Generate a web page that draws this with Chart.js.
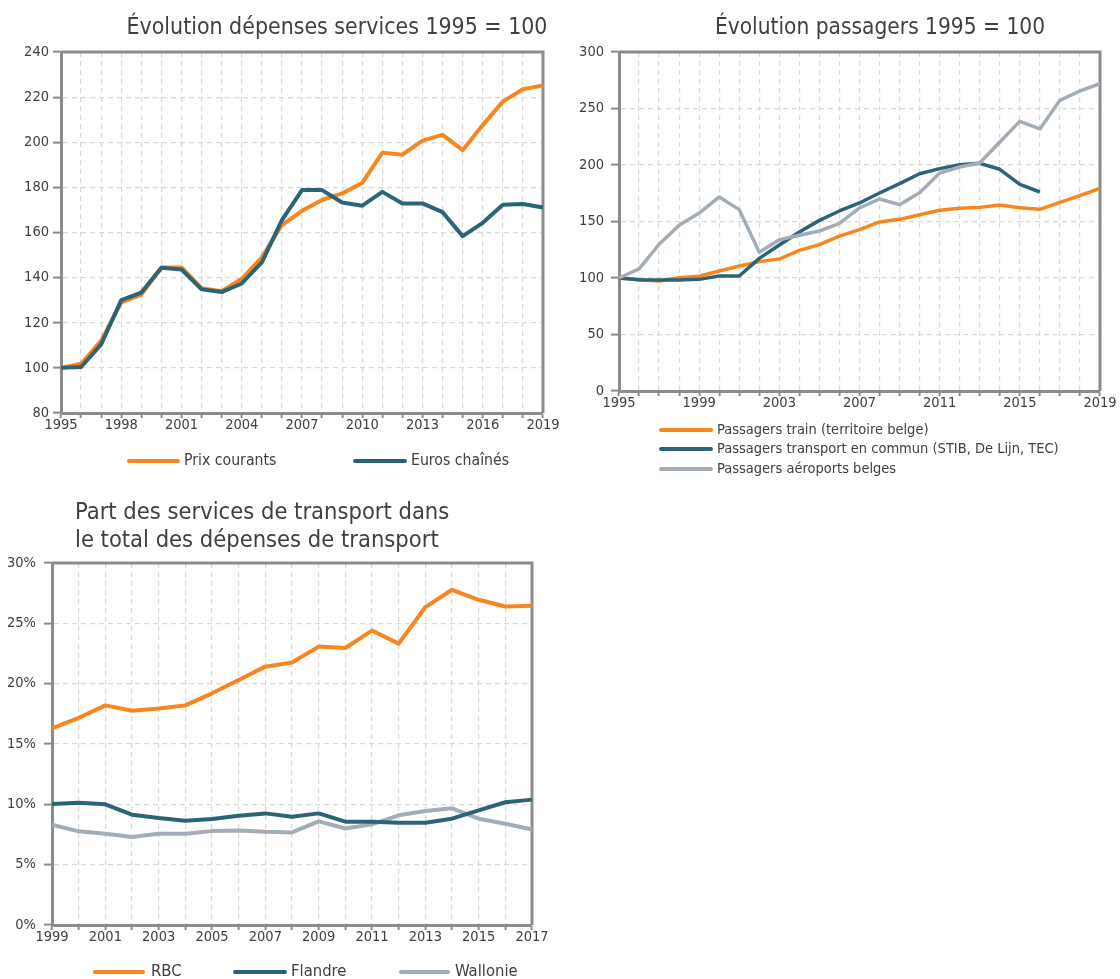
<!DOCTYPE html>
<html><head><meta charset="utf-8">
<script src="https://cdn.jsdelivr.net/npm/chart.js@4.4.1/dist/chart.umd.min.js"></script>
<style>
html,body{margin:0;padding:0;background:#fff;}
body{width:1120px;height:979px;position:relative;overflow:hidden;}
.box{position:absolute;}
#b1{left:0;top:0;width:560px;height:480px;}
#b2{left:560px;top:0;width:560px;height:480px;}
#b3{left:0;top:480px;width:560px;height:499px;}
canvas{display:block;}
</style></head><body>
<div class="box" id="b1"><canvas id="c1" width="560" height="480"></canvas></div>
<div class="box" id="b2"><canvas id="c2" width="560" height="480"></canvas></div>
<div class="box" id="b3"><canvas id="c3" width="560" height="499"></canvas></div>
<script>
// ---------- DATA ----------
const years1 = ['1995','1996','1997','1998','1999','2000','2001','2002','2003','2004','2005','2006','2007','2008','2009','2010','2011','2012','2013','2014','2015','2016','2017','2018','2019'];
const prixCourants = [100, 101.8, 112, 129, 132.5, 144.5, 144.5, 135.3, 134, 139.5, 149, 163.3, 169.6, 174.4, 177.3, 182, 195.4, 194.5, 200.7, 203.3, 196.5, 207.6, 218, 223.5, 225.2];
const eurosChaines = [100, 100.4, 110.4, 130, 133.4, 144.4, 143.6, 134.8, 133.6, 137.4, 146.8, 165.5, 178.8, 178.8, 173.3, 171.9, 178, 172.9, 172.9, 169, 158.4, 164.3, 172.3, 172.6, 171.1];
const xLabels1 = ['1995','1998','2001','2004','2007','2010','2013','2016','2019'];

const years2 = ['1995','1996','1997','1998','1999','2000','2001','2002','2003','2004','2005','2006','2007','2008','2009','2010','2011','2012','2013','2014','2015','2016','2017','2018','2019'];
const passagersTrain = [100, 98.5, 97.3, 100.3, 101.5, 106.2, 110.6, 114.5, 116.8, 124.5, 129.5, 137, 142.8, 149.6, 151.9, 156, 159.9, 161.7, 162.5, 164.6, 162.2, 160.8, 167, 172.9, 179.4];
const passagersTransport = [100, 98.5, 98.2, 98.2, 98.8, 101.8, 101.8, 117.4, 129.2, 140.7, 151, 159.3, 166.4, 175.2, 183.5, 192.3, 196.8, 200.3, 201.5, 196.2, 182.9, 176.1, null, null, null];
const passagersAeroports = [100, 108, 129.8, 146.6, 157.5, 171.7, 160.5, 122.7, 133.9, 137.8, 141.6, 148.3, 162, 169.9, 164.9, 175.5, 192.9, 198.2, 201.8, 220.4, 238.6, 231.9, 257.2, 265.5, 272];
const xLabels2 = ['1995','1999','2003','2007','2011','2015','2019'];

const years3 = ['1999','2000','2001','2002','2003','2004','2005','2006','2007','2008','2009','2010','2011','2012','2013','2014','2015','2016','2017'];
const partRBC = [16.29, 17.17, 18.2, 17.76, 17.95, 18.2, 19.2, 20.3, 21.41, 21.75, 23.07, 22.96, 24.4, 23.32, 26.34, 27.78, 26.95, 26.4, 26.45];
const partFlandre = [10.03, 10.14, 10.0, 9.14, 8.86, 8.64, 8.78, 9.06, 9.25, 8.97, 9.25, 8.56, 8.56, 8.48, 8.48, 8.81, 9.5, 10.17, 10.39];
const partWallonie = [8.31, 7.76, 7.56, 7.29, 7.56, 7.56, 7.78, 7.84, 7.73, 7.67, 8.59, 8.0, 8.34, 9.09, 9.45, 9.67, 8.81, 8.39, 7.92];
const xLabels3 = ['1999','2001','2003','2005','2007','2009','2011','2013','2015','2017'];

const title1 = ['Évolution dépenses services 1995 = 100'];
const title2 = ['Évolution passagers 1995 = 100'];
const title3 = ['Part des services de transport dans', 'le total des dépenses de transport'];

// ---------- STYLE ----------
const FONT = '"DejaVu Sans Condensed", "DejaVu Sans", sans-serif';
const TEXT = '#404040';
const AXIS = '#8c8c8c';
const GRID = '#d9d9d9';
const ORANGE = '#F7861F';
const TEAL = '#2B6476';
const GREY = '#A3ADB7';

Chart.defaults.font.family = FONT;
Chart.defaults.color = TEXT;

const decor = {
  id: 'decor',
  beforeDatasetsDraw(chart, args, opts) {
    const {ctx, chartArea: a} = chart;
    ctx.save();
    ctx.strokeStyle = AXIS;
    ctx.lineWidth = 3;
    ctx.beginPath();
    ctx.moveTo(a.left, a.top);
    ctx.lineTo(a.right, a.top);
    ctx.lineTo(a.right, a.bottom);
    ctx.stroke();
    ctx.restore();
  },
  afterDraw(chart, args, opts) {
    const ctx = chart.ctx;
    ctx.save();
    ctx.fillStyle = TEXT;
    ctx.textBaseline = 'middle';
    ctx.font = opts.titleSize + 'px ' + FONT;
    (opts.titles || []).forEach(t => {
      ctx.textAlign = t.align;
      ctx.fillText(t.text, t.x, t.y);
    });
    ctx.font = opts.legendSize + 'px ' + FONT;
    ctx.textAlign = 'left';
    (opts.legend || []).forEach(l => {
      const ds = chart.data.datasets[l.dataset];
      ctx.strokeStyle = ds.borderColor;
      ctx.lineWidth = 4;
      ctx.lineCap = 'round';
      ctx.beginPath();
      ctx.moveTo(l.x1 + 2, l.y);
      ctx.lineTo(l.x2 - 2, l.y);
      ctx.stroke();
      ctx.fillStyle = TEXT;
      ctx.fillText(ds.label, l.tx, l.y);
    });
    ctx.restore();
  }
};

function lineDs(label, data, color, width, order) {
  return {label, data, borderColor: color, backgroundColor: color, borderWidth: width,
    pointRadius: 0, pointHoverRadius: 0, tension: 0, fill: false, spanGaps: false,
    borderJoinStyle: 'round', borderCapStyle: 'butt', order};
}

function makeChart(id, cfg) {
  const shown = cfg.xShown;
  return new Chart(document.getElementById(id), {
    type: 'line',
    data: {labels: cfg.labels, datasets: cfg.datasets},
    plugins: [decor],
    options: {
      responsive: false,
      animation: false,
      events: [],
      devicePixelRatio: 1,
      layout: {padding: cfg.padding},
      plugins: {
        legend: {display: false},
        title: {display: false},
        tooltip: {enabled: false},
        decor: cfg.decor
      },
      scales: {
        x: {
          type: 'category',
          offset: false,
          grid: {color: GRID, lineWidth: 1.2, borderDash: [5, 4], drawTicks: true, tickLength: 5, tickColor: AXIS, tickWidth: 2},
          border: {display: true, color: AXIS, width: 3, dash: [5, 4]},
          ticks: {autoSkip: false, maxRotation: 0, minRotation: 0, padding: cfg.xPad, color: TEXT, font: {size: cfg.tickSize},
            callback: function(v, i) { const l = this.getLabelForValue(v); return shown.includes(l) ? l : ''; }},
          afterFit: s => { s.height = cfg.xHeight; s.paddingLeft = 0; s.paddingRight = 0; }
        },
        y: {
          min: cfg.yMin, max: cfg.yMax,
          grid: {color: GRID, lineWidth: 1.2, borderDash: [5, 4], drawTicks: true, tickLength: 8, tickColor: AXIS, tickWidth: 2},
          border: {display: true, color: AXIS, width: 3, dash: [5, 4]},
          ticks: {stepSize: cfg.yStep, padding: cfg.yPad, color: TEXT, font: {size: cfg.tickSize},
            callback: v => v + (cfg.ySuffix || '')},
          afterFit: s => { s.width = cfg.yWidth; s.paddingTop = 0; s.paddingBottom = 0; }
        }
      }
    }
  });
}

// Chart 1
makeChart('c1', {
  labels: years1, xShown: xLabels1,
  datasets: [
    lineDs('Prix courants', prixCourants, ORANGE, 4, 1),
    lineDs('Euros chaînés', eurosChaines, TEAL, 4, 0)
  ],
  padding: {left: 0, right: 17, top: 52, bottom: 37},
  xHeight: 30, yWidth: 61, yMin: 80, yMax: 240, yStep: 20, xPad: -1, yPad: 4, tickSize: 14.5,
  decor: {
    titleSize: 22.9, legendSize: 15.7,
    titles: [{text: title1[0], x: 337, y: 28, align: 'center'}],
    legend: [{dataset: 0, x1: 127, x2: 180, tx: 184, y: 461}, {dataset: 1, x1: 353, x2: 407, tx: 411, y: 461}]
  }
});

// Chart 2
makeChart('c2', {
  labels: years2, xShown: xLabels2,
  datasets: [
    lineDs('Passagers train (territoire belge)', passagersTrain, ORANGE, 3.5, 2),
    lineDs('Passagers transport en commun (STIB, De Lijn, TEC)', passagersTransport, TEAL, 3.5, 1),
    lineDs('Passagers aéroports belges', passagersAeroports, GREY, 3.5, 0)
  ],
  padding: {left: 0, right: 20, top: 52, bottom: 61},
  xHeight: 28, yWidth: 59, yMin: 0, yMax: 300, yStep: 50, xPad: -1, yPad: 7, tickSize: 14.5,
  decor: {
    titleSize: 22.5, legendSize: 14.5,
    titles: [{text: title2[0], x: 320, y: 28, align: 'center'}],
    legend: [{dataset: 0, x1: 99, x2: 153, tx: 157, y: 430}, {dataset: 1, x1: 99, x2: 153, tx: 157, y: 449}, {dataset: 2, x1: 99, x2: 153, tx: 157, y: 469}]
  }
});

// Chart 3
makeChart('c3', {
  labels: years3, xShown: xLabels3,
  datasets: [
    lineDs('RBC', partRBC, ORANGE, 4, 2),
    lineDs('Flandre', partFlandre, TEAL, 4, 0),
    lineDs('Wallonie', partWallonie, GREY, 4, 1)
  ],
  padding: {left: 0, right: 28, top: 83, bottom: 26},
  xHeight: 28, yWidth: 52, yMin: 0, yMax: 30, yStep: 5, ySuffix: '%', xPad: -1, yPad: 8, tickSize: 14.5,
  decor: {
    titleSize: 23.5, legendSize: 16.5,
    titles: [{text: title3[0], x: 75, y: 33, align: 'left'}, {text: title3[1], x: 75, y: 61, align: 'left'}],
    legend: [{dataset: 0, x1: 93, x2: 145, tx: 151, y: 492}, {dataset: 1, x1: 233, x2: 287, tx: 291, y: 492}, {dataset: 2, x1: 399, x2: 450, tx: 455, y: 492}]
  }
});
</script>
</body></html>
